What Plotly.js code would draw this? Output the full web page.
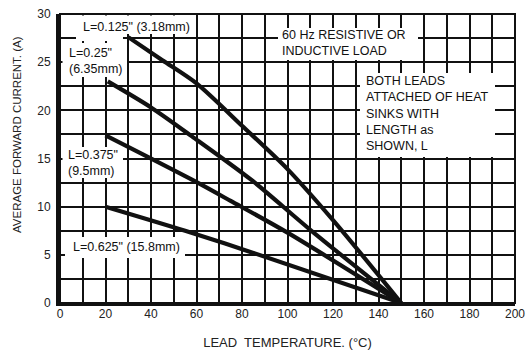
<!DOCTYPE html>
<html>
<head>
<meta charset="utf-8">
<script src="https://cdn.plot.ly/plotly-3.0.1.min.js"></script>
<style>html,body{margin:0;padding:0;background:#fff;}#chart{width:526px;height:353px;}</style>
</head>
<body>
<div id="chart"></div>
<script>
// ---- data ----
const seriesNames = ['L=0.125" (3.18mm)', 'L=0.25" (6.35mm)', 'L=0.375" (9.5mm)', 'L=0.625" (15.8mm)'];
const temp125 = [30, 45, 60, 80, 100, 120, 150];
const curr125 = [27.6, 25.2, 22.8, 18.4, 13.9, 8.6, 0];
const temp250 = [21, 40, 58, 84, 110, 150];
const curr250 = [23.0, 20.3, 17.3, 12.8, 7.6, 0];
const temp375 = [20, 58, 75, 100, 150];
const curr375 = [17.4, 12.8, 10.6, 7.3, 0];
const temp625 = [20, 55, 85, 150];
const curr625 = [10.0, 7.5, 5.2, 0];
const xTickVals = [0, 20, 40, 60, 80, 100, 120, 140, 160, 180, 200];
const yTickVals = [0, 5, 10, 15, 20, 25, 30];

// ---- layout helpers (pixel -> paper) ----
const L = 60, R = 515, T = 14, B = 303;
const px = p => (p - L) / (R - L);
const py = p => (B - p) / (B - T);
const FONT = 'Arial, "Liberation Sans", sans-serif';

const xs = [temp125, temp250, temp375, temp625];
const ys = [curr125, curr250, curr375, curr625];
const traces = xs.map((x, i) => ({
  x: x, y: ys[i], name: seriesNames[i], type: 'scatter', mode: 'lines',
  line: {color: '#111', width: 4.2, shape: 'spline', smoothing: 0.8},
  hoverinfo: 'skip', showlegend: false
}));

function whiteBox(x0, x1, y0, y1) {
  return {type: 'rect', xref: 'paper', yref: 'paper', layer: 'above',
    x0: px(x0), x1: px(x1), y0: py(y1), y1: py(y0),
    fillcolor: '#fff', line: {width: 0}};
}
const shapes = [
  whiteBox(62.5, 196, 15.5, 34),
  whiteBox(76, 123, 34, 41),
  whiteBox(62.5, 127, 43, 77),
  whiteBox(62.5, 123, 147, 178),
  whiteBox(65, 185, 237, 258),
  whiteBox(278, 418, 28, 60),
  whiteBox(360, 495, 73, 157),
  {type: 'rect', xref: 'paper', yref: 'paper', layer: 'above', x0: 0, x1: 1, y0: 0, y1: 1,
    line: {color: '#111', width: 2}, fillcolor: 'rgba(0,0,0,0)'}
];

function label(text, x, y) {
  return {xref: 'paper', yref: 'paper', x: px(x), y: py(y), xanchor: 'left', yanchor: 'middle',
    align: 'left', showarrow: false, text: text, font: {family: FONT, size: 12.5, color: '#111'}};
}
const annotations = [
  label('L=0.125" (3.18mm)', 81, 26.5),
  label('L=0.25"<br>(6.35mm)', 67, 61.5),
  label('L=0.375"<br>(9.5mm)', 66, 162.5),
  label('L=0.625" (15.8mm)', 71, 247),
  label('60 Hz RESISTIVE OR<br>INDUCTIVE LOAD', 280, 43),
  label('BOTH LEADS<br>ATTACHED OF HEAT<br>SINKS WITH<br>LENGTH as<br>SHOWN, L', 364, 113),
  {xref: 'paper', yref: 'paper', x: px(17), y: py(135), xanchor: 'center', yanchor: 'middle',
   textangle: -90, showarrow: false, text: 'AVERAGE FORWARD CURRENT. (A)',
   font: {family: FONT, size: 11.5, color: '#222'}}
];

const layout = {
  width: 526, height: 353,
  margin: {l: L, r: 526 - R, t: T, b: 353 - B},
  paper_bgcolor: '#fff', plot_bgcolor: '#fff',
  font: {family: FONT, size: 12, color: '#222'},
  xaxis: {
    range: [0, 200], tickmode: 'array', tickvals: xTickVals, ticks: '',
    ticklabelstandoff: -2,
    showgrid: true, gridcolor: '#111', gridwidth: 2,
    minor: {dtick: 10, showgrid: true, gridcolor: '#111', gridwidth: 2},
    showline: true, linecolor: '#111', linewidth: 3, zeroline: false,
    tickfont: {family: FONT, size: 12, color: '#222'},
    title: {text: 'LEAD  TEMPERATURE. (°C)', font: {family: FONT, size: 13, color: '#222'}, standoff: 18},
    fixedrange: true
  },
  yaxis: {
    range: [0, 30], tickmode: 'array', tickvals: yTickVals, ticks: '',
    ticklabelstandoff: 3,
    showgrid: true, gridcolor: '#111', gridwidth: 2,
    minor: {dtick: 2.5, showgrid: true, gridcolor: '#111', gridwidth: 2},
    showline: true, linecolor: '#111', linewidth: 4, zeroline: false,
    tickfont: {family: FONT, size: 12, color: '#222'},
    fixedrange: true
  },
  shapes: shapes,
  annotations: annotations,
  showlegend: false
};

Plotly.newPlot('chart', traces, layout, {staticPlot: true, displayModeBar: false});
</script>
</body>
</html>
